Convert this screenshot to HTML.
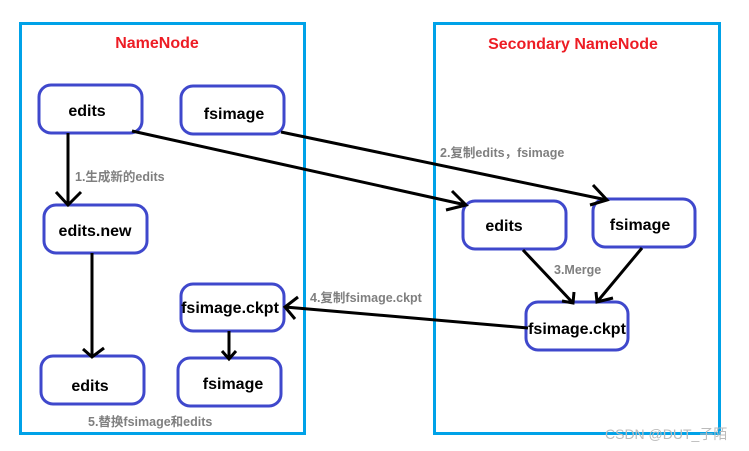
<!DOCTYPE html>
<html><head><meta charset="utf-8"><style>
body{margin:0;background:#fff}
svg{display:block}
.n{fill:#fff;stroke:#3f48cc;stroke-width:3}
.t{font-family:"Liberation Sans","Noto Sans CJK SC",sans-serif;font-weight:bold;font-size:16px;fill:#000;text-anchor:middle}
.g{font-family:"Liberation Sans","Noto Sans CJK SC",sans-serif;font-weight:bold;font-size:12.5px;fill:#7f7f7f}
.r{font-family:"Liberation Sans","Noto Sans CJK SC",sans-serif;font-weight:bold;font-size:16px;fill:#ed1c24;text-anchor:middle}
.l{stroke:#000;stroke-width:3;fill:none}
</style></head><body>
<svg width="749" height="451" viewBox="0 0 749 451">
<rect x="20.5" y="23.5" width="284" height="410" fill="none" stroke="#00a2e8" stroke-width="3"/>
<rect x="434.5" y="23.5" width="285" height="410" fill="none" stroke="#00a2e8" stroke-width="3"/>
<text class="r" x="157" y="48">NameNode</text>
<text class="r" x="573" y="49">Secondary NameNode</text>

<rect class="n" x="39" y="85" width="103" height="48" rx="12"/>
<rect class="n" x="181" y="86" width="103" height="48" rx="12"/>
<rect class="n" x="44" y="205" width="103" height="48" rx="12"/>
<rect class="n" x="181" y="284" width="103" height="47" rx="12"/>
<rect class="n" x="41" y="356" width="103" height="48" rx="12"/>
<rect class="n" x="178" y="358" width="103" height="48" rx="12"/>
<rect class="n" x="463" y="201" width="103" height="48" rx="12"/>
<rect class="n" x="593" y="199" width="102" height="48" rx="12"/>
<rect class="n" x="526" y="302" width="102" height="48" rx="12"/>

<text class="t" x="87" y="116">edits</text>
<text class="t" x="234" y="119">fsimage</text>
<text class="t" x="95" y="236">edits.new</text>
<text class="t" x="230" y="313">fsimage.ckpt</text>
<text class="t" x="90" y="391">edits</text>
<text class="t" x="233" y="389">fsimage</text>
<text class="t" x="504" y="231">edits</text>
<text class="t" x="640" y="230">fsimage</text>
<text class="t" x="577" y="334">fsimage.ckpt</text>

<path class="l" d="M68 133V205M56 192L68 205L81 192"/>
<path class="l" d="M92 253V357M83 349L92 357L104 348"/>
<path class="l" d="M229 331V359M222 351L229 359L236 351"/>
<path class="l" d="M132 131L466 205M452 191L466 205L446 210"/>
<path class="l" d="M281 132L607 200M593 185L607 200L590 205"/>
<path class="l" d="M528 328L285 307M298 297L285 307L295 319"/>
<path class="l" d="M523 250L573 303M574 292L573 303L562 301"/>
<path class="l" d="M642 248L597 302M596 292L597 302L613 298"/>

<text class="g" x="75" y="181">1.生成新的edits</text>
<text class="g" x="440" y="157">2.复制edits，fsimage</text>
<text class="g" x="554" y="274">3.Merge</text>
<text class="g" x="310" y="302">4.复制fsimage.ckpt</text>
<text class="g" x="88" y="426">5.替换fsimage和edits</text>
<text x="605" y="439" font-family="Liberation Sans,Noto Sans CJK SC,sans-serif" font-size="14" fill="#bbb">CSDN @DUT_子陌</text>
</svg>
</body></html>
